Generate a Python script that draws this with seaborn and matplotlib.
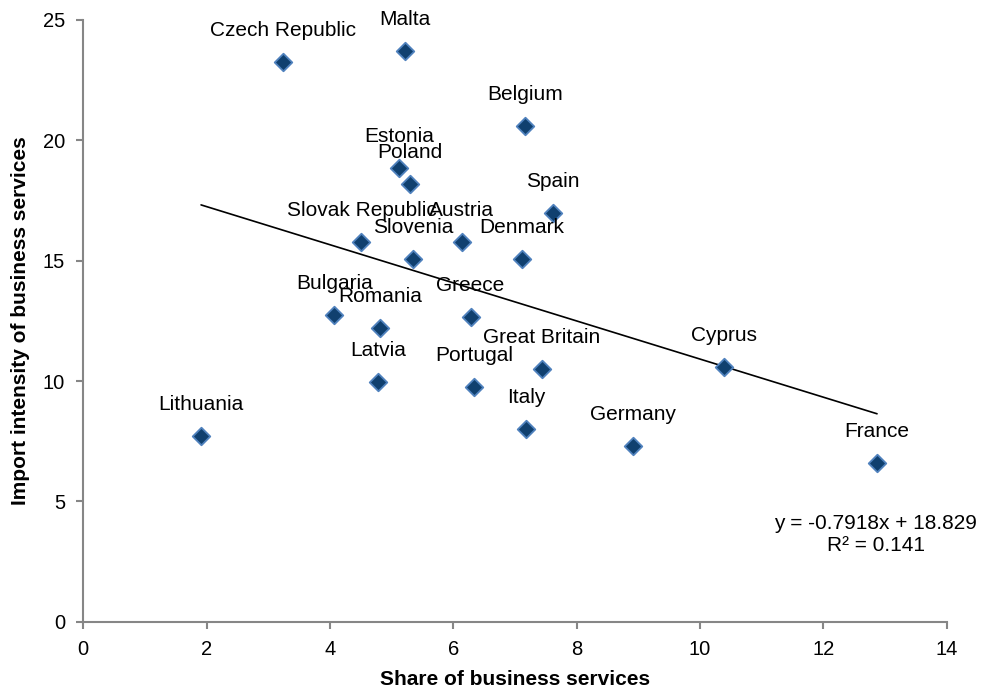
import numpy as np
import pandas as pd
import matplotlib
matplotlib.use("Agg")
import matplotlib.pyplot as plt
import seaborn as sns

# country values
countries = ["Czech Republic", "Malta", "Belgium", "Estonia", "Poland", "Spain",
             "Slovak Republic", "Austria", "Slovenia", "Denmark", "Bulgaria",
             "Romania", "Greece", "Great Britain", "Latvia", "Portugal", "Cyprus",
             "Italy", "Germany", "France", "Lithuania"]
share = [3.24, 5.21, 7.16, 5.12, 5.29, 7.62, 4.51, 6.14, 5.35, 7.11, 4.07,
         4.81, 6.28, 7.43, 4.78, 6.34, 10.39, 7.18, 8.92, 12.87, 1.91]
intensity = [23.25, 23.71, 20.59, 18.84, 18.18, 16.98, 15.79, 15.76, 15.07, 15.07, 12.74,
             12.19, 12.67, 10.50, 9.96, 9.75, 10.59, 7.99, 7.31, 6.58, 7.71]

# linear trend as given in the chart
trend_slope = -0.7918
trend_intercept = 18.829
r_squared = 0.141

x_ticks = [0, 2, 4, 6, 8, 10, 12, 14]
y_ticks = [0, 5, 10, 15, 20, 25]

df = pd.DataFrame({"country": countries, "share": share, "intensity": intensity})

sns.set_theme(style="white")
plt.rcParams["font.family"] = ["Liberation Sans", "DejaVu Sans"]
plt.rcParams["text.color"] = "black"
plt.rcParams["axes.labelcolor"] = "black"

fig = plt.figure(figsize=(9.83, 6.91), dpi=100)
ax = fig.add_axes([0.0847, 0.1003, 0.8784, 0.8708])

# trend line over the data range
tx = np.array([df["share"].min(), df["share"].max()])
trend = pd.DataFrame({"x": tx, "y": trend_slope * tx + trend_intercept})
sns.lineplot(data=trend, x="x", y="y", color="black", linewidth=1.2, ax=ax)

sns.scatterplot(data=df, x="share", y="intensity", marker="D", s=80,
                color="#10406f", edgecolor="#4f81bd", linewidth=1.3, ax=ax, zorder=3)

# country names above the markers
for _, row in df.iterrows():
    ax.annotate(row["country"], (row["share"], row["intensity"]),
                xytext=(0, 18.7), textcoords="offset points",
                ha="center", va="baseline", fontsize=15, color="black")

ax.text(12.85, 3.63, f"y = {trend_slope}x + {trend_intercept}\nR² = {r_squared}",
        ha="center", va="center", fontsize=15, linespacing=1.2, color="black")

ax.set_xlim(0, 14)
ax.set_ylim(0, 25)
ax.set_xticks(x_ticks)
ax.set_yticks(y_ticks)
ax.tick_params(axis="both", direction="out", length=5, width=1.5, color="#868686",
               labelcolor="black", labelsize=14.5, pad=8, bottom=True, left=True)

for side in ["top", "right"]:
    ax.spines[side].set_visible(False)
for side in ["left", "bottom"]:
    ax.spines[side].set_color("#868686")
    ax.spines[side].set_linewidth(1.5)

ax.set_xlabel("Share of business services", fontsize=15, fontweight="bold")
ax.set_ylabel("Import intensity of business services", fontsize=15, fontweight="bold")
ax.xaxis.set_label_coords(0.5, -0.080)
ax.yaxis.set_label_coords(-0.062, 0.5)

fig.savefig("out.png", dpi=100)
plt.close(fig)
